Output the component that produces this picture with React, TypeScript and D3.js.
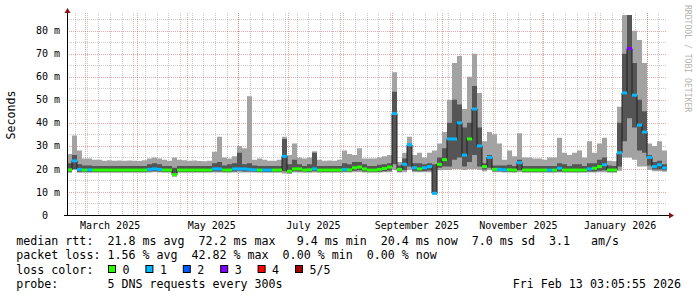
import React from 'react';
import * as d3 from 'd3';

// ---- data (one entry per 3-day step, 120 steps) ----
const START = Date.UTC(2025, 1, 18, 3, 5, 55);
const END = Date.UTC(2026, 1, 13, 3, 5, 55);
const STEP_MS = 3 * 24 * 3600 * 1000;

const minMs = [
  18.3, 19.5, 18.3, 18.3, 18.3, 18.3, 18.3, 18.3, 18.3, 18.3,
  18.3, 18.3, 18.3, 18.3, 18.3, 18.3, 18.4, 18.5, 18.4, 18.3,
  18.3, 16.6, 18.3, 18.3, 18.3, 18.3, 18.3, 18.3, 18.3, 18.4,
  18.4, 18.3, 18.3, 18.4, 18.4, 18.4, 18.4, 18.4, 18.3, 18.3,
  18.3, 18.3, 18.3, 18.0, 17.8, 18.4, 18.4, 18.3, 18.3, 18.4,
  18.3, 18.3, 18.3, 18.3, 18.3, 18.4, 18.4, 18.5, 18.6, 18.4,
  18.3, 18.3, 18.4, 18.5, 18.6, 19.5, 18.4, 18.6, 19.5, 18.6,
  18.5, 18.5, 18.6, 9.0, 19.4, 19.5, 19.5, 20.0, 20.0, 19.5,
  20.0, 20.0, 19.5, 19.0, 19.5, 18.5, 18.5, 18.4, 18.4, 18.3,
  18.6, 18.3, 18.3, 18.3, 18.3, 18.3, 18.3, 18.3, 18.4, 18.3,
  18.3, 18.3, 18.3, 18.3, 18.4, 18.4, 18.5, 18.6, 18.3, 18.3,
  19.2, 25.0, 25.0, 24.0, 21.0, 21.0, 19.5, 19.0, 19.0, 18.8,
];
const p2Ms = [
  18.8, 20.0, 18.8, 18.7, 18.7, 18.7, 18.7, 18.7, 18.7, 18.7,
  18.7, 18.7, 18.7, 18.7, 18.7, 18.7, 18.9, 19.0, 18.9, 18.7,
  18.7, 17.0, 18.7, 18.7, 18.7, 18.7, 18.7, 18.7, 18.7, 18.9,
  18.9, 18.7, 18.7, 18.9, 19.2, 18.9, 18.9, 18.8, 18.7, 18.7,
  18.7, 18.7, 18.7, 19.0, 18.2, 19.0, 18.9, 18.7, 18.7, 19.0,
  18.7, 18.7, 18.7, 18.7, 18.7, 18.9, 18.8, 19.2, 19.4, 18.9,
  18.7, 18.7, 18.8, 19.0, 19.3, 22.0, 18.9, 19.5, 21.0, 19.2,
  19.0, 19.1, 19.3, 9.3, 20.5, 21.0, 21.0, 24.0, 25.0, 21.0,
  23.0, 26.0, 21.0, 19.8, 20.5, 19.0, 19.0, 18.8, 18.8, 18.7,
  19.4, 18.7, 18.7, 18.7, 18.7, 18.7, 18.7, 18.7, 18.9, 18.7,
  18.7, 18.7, 18.7, 18.7, 18.9, 18.9, 19.2, 19.4, 18.7, 18.7,
  21.0, 32.0, 42.0, 38.0, 28.0, 27.0, 21.5, 19.8, 19.8, 19.4,
];
const medianMs = [
  19.6, 23.5, 19.8, 19.5, 19.6, 19.5, 19.5, 19.5, 19.5, 19.5,
  19.5, 19.5, 19.5, 19.5, 19.5, 19.5, 19.8, 20.0, 19.8, 19.5,
  19.5, 17.5, 19.5, 19.5, 19.5, 19.5, 19.5, 19.5, 19.5, 20.0,
  20.0, 19.5, 19.5, 20.0, 20.0, 20.0, 19.8, 19.6, 19.5, 19.5,
  19.5, 19.5, 19.5, 25.5, 19.0, 20.0, 20.0, 19.5, 19.6, 20.0,
  19.5, 19.5, 19.5, 19.5, 19.5, 19.8, 19.6, 20.5, 20.8, 20.0,
  19.5, 19.5, 19.8, 20.2, 20.8, 44.0, 19.8, 22.0, 30.5, 20.5,
  20.0, 20.5, 21.0, 9.4, 22.0, 24.0, 33.0, 33.0, 40.0, 26.0,
  33.0, 46.0, 30.0, 21.0, 25.0, 19.8, 19.8, 19.6, 19.6, 19.5,
  22.7, 19.5, 19.5, 19.5, 19.5, 19.5, 19.5, 19.5, 20.3, 19.5,
  19.5, 19.5, 19.5, 19.5, 20.0, 20.3, 21.0, 21.8, 19.5, 19.5,
  27.0, 53.0, 72.2, 52.0, 39.0, 36.0, 25.0, 21.0, 21.8, 20.4,
];
const p4Ms = [
  22.5, 26.0, 22.0, 21.5, 21.5, 21.3, 21.3, 21.3, 21.3, 21.3,
  21.3, 21.3, 21.3, 21.3, 21.3, 21.3, 22.0, 22.5, 22.0, 21.3,
  21.3, 20.5, 21.3, 21.3, 21.3, 21.3, 21.3, 21.3, 21.3, 22.5,
  23.0, 21.5, 22.0, 22.5, 27.0, 22.0, 22.5, 21.5, 21.3, 21.3,
  21.3, 21.3, 21.3, 33.0, 22.0, 24.0, 22.0, 21.3, 22.0, 27.0,
  21.3, 21.3, 21.3, 21.3, 21.3, 22.5, 22.0, 23.0, 23.0, 22.0,
  21.3, 21.3, 21.8, 22.0, 22.5, 53.5, 21.5, 24.5, 30.8, 22.5,
  22.5, 22.0, 22.5, 22.0, 25.0, 29.0, 40.0, 50.0, 48.0, 38.0,
  40.0, 56.0, 38.0, 22.5, 26.0, 21.5, 21.5, 21.5, 21.8, 21.3,
  24.0, 21.3, 21.3, 21.3, 21.3, 21.3, 21.3, 21.3, 22.5, 22.0,
  21.3, 22.0, 22.0, 21.3, 22.5, 22.5, 24.0, 25.0, 21.5, 21.3,
  40.0, 70.0, 90.0, 66.0, 50.0, 45.0, 26.0, 23.0, 23.5, 22.0,
];
const maxMs = [
  26.5, 34.5, 28.0, 24.5, 24.5, 24.0, 24.0, 23.5, 23.8, 23.5,
  23.7, 23.5, 23.6, 23.5, 23.4, 23.8, 24.5, 25.0, 24.5, 24.0,
  23.5, 25.0, 24.0, 23.8, 23.5, 23.6, 23.4, 23.3, 23.5, 27.5,
  34.0, 25.0, 24.5, 25.5, 30.0, 29.0, 51.5, 24.0, 24.5, 24.0,
  23.5, 23.5, 24.0, 34.0, 26.0, 31.0, 25.0, 24.5, 25.0, 27.7,
  24.0, 23.5, 23.7, 23.5, 24.0, 28.0, 26.5, 26.0, 29.0, 24.5,
  24.5, 24.5, 25.0, 25.5, 26.0, 62.0, 23.0, 27.0, 34.0, 26.0,
  27.0, 25.0, 27.0, 28.0, 31.0, 36.0, 50.0, 66.0, 69.0, 46.0,
  60.0, 70.0, 53.0, 32.0, 36.0, 35.0, 31.0, 24.0, 28.0, 25.5,
  35.5, 25.0, 25.0, 24.5, 24.5, 24.0, 25.0, 25.0, 33.5, 27.0,
  26.0, 27.0, 28.0, 25.0, 32.0, 27.0, 31.0, 33.5, 23.5, 23.3,
  47.0, 90.0, 90.0, 80.0, 76.0, 66.0, 31.0, 30.0, 32.0, 28.0,
];
const lostPings = [
  0, 1, 1, 0, 1, 0, 0, 0, 0, 0,
  0, 0, 0, 0, 0, 0, 1, 1, 1, 0,
  0, 0, 0, 0, 0, 0, 0, 0, 0, 1,
  1, 0, 0, 1, 1, 1, 1, 1, 0, 1,
  1, 0, 0, 1, 0, 0, 0, 0, 0, 1,
  0, 0, 0, 0, 0, 1, 0, 0, 0, 0,
  0, 0, 0, 0, 0, 1, 0, 1, 1, 1,
  0, 1, 1, 1, 0, 0, 1, 1, 1, 1,
  0, 1, 1, 0, 1, 0, 1, 1, 0, 0,
  1, 0, 0, 0, 0, 0, 1, 0, 1, 0,
  0, 0, 0, 0, 1, 0, 0, 1, 0, 0,
  1, 1, 3, 1, 1, 1, 1, 1, 1, 1,
];

const yTickValues = [0, 10, 20, 30, 40, 50, 60, 70, 80];
const lossLabels = ['0', '1', '2', '3', '4', '5/5'];
const lossColors = ['#26ff00', '#00b8ff', '#0059ff', '#7e00ff', '#ff0000', '#a10000'];
const legendLines = [
  'median rtt:  21.8 ms avg  72.2 ms max   9.4 ms min  20.4 ms now  7.0 ms sd  3.1   am/s',
  'packet loss: 1.56 % avg  42.82 % max  0.00 % min  0.00 % now',
];
const lossColorLabel = 'loss color:';
const probeLine = 'probe:       5 DNS requests every 300s';
const stampText = 'Fri Feb 13 03:05:55 2026';
const yAxisTitle = 'Seconds';
const watermark = 'RRDTOOL / TOBI OETIKER';

// ---- layout ----
const W = 697;
const H = 297;
const PL = 67, PR = 667, PT = 15, PB = 215;
const Y_MAX = 86.8;
const MONO = '"DejaVu Sans Mono", monospace';

type Row = { t: Date; t1: Date; lo: number; p2: number; med: number; p4: number; hi: number; loss: number };

export default function App() {
  const x = d3.scaleUtc().domain([new Date(START), new Date(END)]).range([PL, PR]);
  const y = d3.scaleLinear().domain([0, Y_MAX]).range([PB, PT]);

  const rows: Row[] = medianMs.map((m, i) => ({
    t: new Date(START + i * STEP_MS),
    t1: new Date(START + (i + 1) * STEP_MS),
    lo: minMs[i], p2: p2Ms[i], med: m, p4: p4Ms[i], hi: maxMs[i], loss: lostPings[i],
  }));
  const pts = [...rows, { ...rows[rows.length - 1], t: new Date(END) }];

  const outer = d3.area<Row>().x(d => x(d.t)).y0(d => y(d.lo)).y1(d => y(d.hi)).curve(d3.curveStepAfter);
  const inner = d3.area<Row>().x(d => x(d.t)).y0(d => y(d.p2)).y1(d => y(d.p4)).curve(d3.curveStepAfter);
  const medLine = d3.line<Row>().x(d => x(d.t)).y(d => y(d.med)).curve(d3.curveStepAfter);

  const weeks = d3.utcSunday.range(new Date(START), new Date(END));
  const months = d3.utcMonth.range(new Date(START), new Date(END));
  const labelMonths = d3.utcMonth.every(2)!.range(new Date(START), new Date(END));
  const hLines = d3.range(5, Y_MAX, 5);
  const fmt = d3.utcFormat('%B %Y');

  const crisp = (v: number) => Math.round(v) + 0.5;
  const minorStroke = 'rgba(140,140,140,0.45)';
  const majorStroke = 'rgba(200,60,60,0.45)';

  return (
    <svg width={W} height={H} viewBox={`0 0 ${W} ${H}`}
      style={{ position: 'absolute', left: 0, top: 0, display: 'block', background: '#fff' }}>
      <defs>
        <clipPath id="plot">
          <rect x={PL} y={PT} width={PR - PL} height={PB - PT} />
        </clipPath>
      </defs>
      <rect x={0} y={0} width={W} height={H} fill="#fff" />

      {/* grid */}
      <g strokeWidth={1} strokeDasharray="1,1" fill="none">
        {hLines.map(v => (
          <line key={'h' + v} x1={PL} x2={PR} y1={crisp(y(v))} y2={crisp(y(v))}
            stroke={v % 10 === 0 ? majorStroke : minorStroke} />
        ))}
        {weeks.map(w => (
          <line key={'w' + +w} x1={crisp(x(w))} x2={crisp(x(w))} y1={PT - 2} y2={PB} stroke={minorStroke} />
        ))}
        {months.map(m => (
          <line key={'m' + +m} x1={crisp(x(m))} x2={crisp(x(m))} y1={PT - 2} y2={PB} stroke={majorStroke} />
        ))}
      </g>

      {/* smoke */}
      <g clipPath="url(#plot)">
        <path d={outer(pts) || ''} fill="#a3a3a3" />
        <path d={inner(pts) || ''} fill="#555555" />
        <path d={medLine(pts) || ''} fill="none" stroke="#202020" strokeWidth={1} />
        {rows.map((r, i) => (
          <rect key={'b' + i} x={x(r.t)} width={x(r.t1) - x(r.t)} y={y(r.med) - 1.5} height={3}
            fill={lossColors[r.loss]} />
        ))}
      </g>

      {/* axes */}
      <line x1={PL + 0.5} x2={PL + 0.5} y1={PB + 1} y2={PT - 3} stroke="#000" strokeWidth={1} />
      <line x1={PL - 3} x2={PR + 3} y1={PB + 0.5} y2={PB + 0.5} stroke="#000" strokeWidth={1} />
      <path d={`M${PL + 0.5},${PT - 7} L${PL - 2.5},${PT - 2} L${PL + 3.5},${PT - 2} Z`} fill="#8f1010" />
      <path d={`M${PR + 7},${PB + 0.5} L${PR + 2},${PB - 2.5} L${PR + 2},${PB + 3.5} Z`} fill="#8f1010" />

      {/* y labels */}
      <g fontFamily={MONO} fontSize={10} fill="#000">
        {yTickValues.map(v => (
          <text key={'y' + v} x={60} y={y(v) + 3.6} textAnchor="end" xmlSpace="preserve" style={{ whiteSpace: 'pre' }}>
            {v === 0 ? '0  ' : `${v} m`}
          </text>
        ))}
        {labelMonths.map(m => (
          <text key={'x' + +m} x={x(d3.utcDay.offset(m, 15))} y={228.5} textAnchor="middle">{fmt(m)}</text>
        ))}
      </g>

      <text transform={`translate(15,${(PT + PB) / 2}) rotate(-90)`} textAnchor="middle"
        fontFamily={MONO} fontSize={11.6} fill="#000">{yAxisTitle}</text>
      <text transform="translate(685,5) rotate(90)" fontFamily={MONO} fontSize={8.1} fill="#b4b4b4">{watermark}</text>

      {/* legend */}
      <g fontFamily={MONO} fontSize={11.65} fill="#000">
        {legendLines.map((l, i) => (
          <text key={'l' + i} x={16.3} y={245 + i * 14.3} xmlSpace="preserve" style={{ whiteSpace: 'pre' }}>{l}</text>
        ))}
        <text x={16.3} y={273.6}>{lossColorLabel}</text>
        {lossLabels.map((lab, k) => (
          <g key={'lc' + k}>
            <rect x={108.5 + k * 37.4} y={265.5} width={7} height={7} fill={lossColors[k]} stroke="#000" strokeWidth={1} />
            <text x={122.5 + k * 37.4} y={273.6}>{lab}</text>
          </g>
        ))}
        <text x={16.3} y={287.9} xmlSpace="preserve" style={{ whiteSpace: 'pre' }}>{probeLine}</text>
        <text x={681} y={287.9} textAnchor="end">{stampText}</text>
      </g>
    </svg>
  );
}
